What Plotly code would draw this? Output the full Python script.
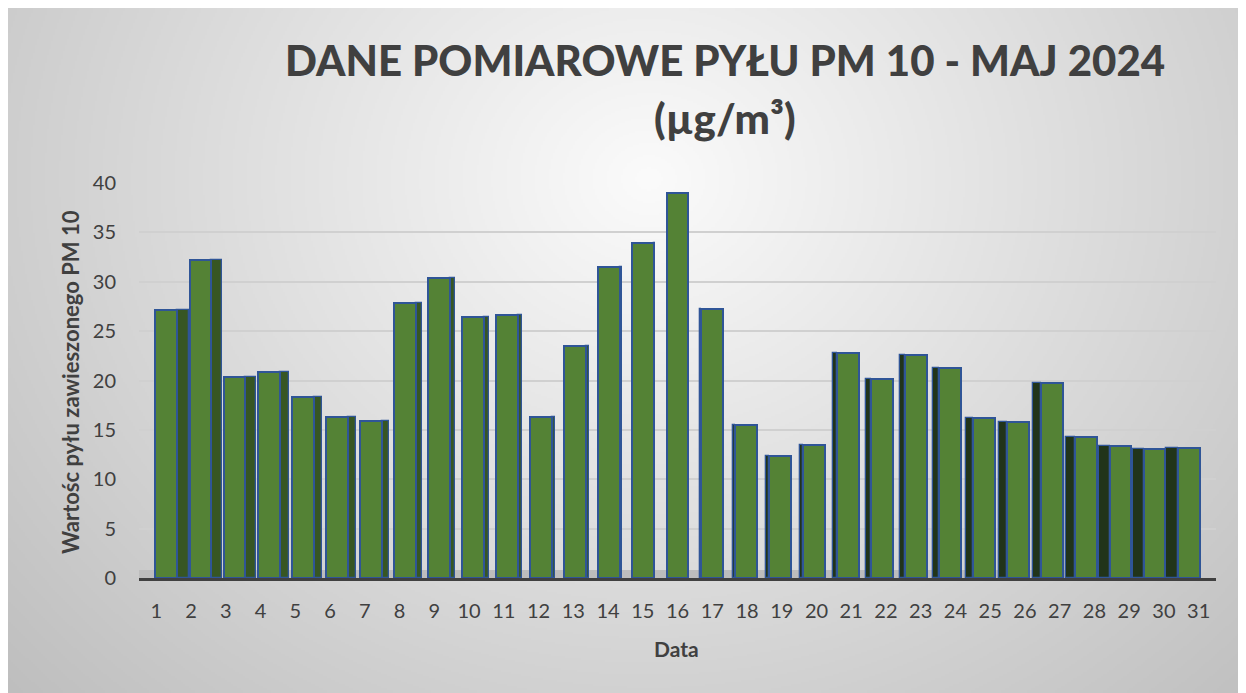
import base64
import struct
import zlib

import numpy as np
import plotly.graph_objects as go

# ---------------- data ----------------
days = [str(d) for d in range(1, 32)]
pm10 = [27.1, 32.2, 20.4, 20.9, 18.3, 16.3, 15.9, 27.8, 30.4, 26.4,
        26.6, 16.3, 23.5, 31.5, 33.9, 39.0, 27.2, 15.5, 12.4, 13.5,
        22.8, 20.2, 22.6, 21.3, 16.2, 15.8, 19.7, 14.3, 13.4, 13.1, 13.2]
y_ticks = [0, 5, 10, 15, 20, 25, 30, 35, 40]

title_line1 = "DANE POMIAROWE PYŁU PM 10 - MAJ 2024"
title_line2 = "(µg/m³)"
x_title = "Data"
y_title = "Wartośc pyłu zawieszonego PM 10"

# ---------------- layout constants (figure pixels) ----------------
W, H = 1238, 685          # page adds an 8 px body margin
ML, MR, MT, MB = 131, 30, 175, 115
PW, PH = W - ML - MR, H - MT - MB


def fx(px):   # figure pixel x -> paper
    return (px - ML) / PW


def fy(py):   # figure pixel y (from top) -> paper
    return (H - MB - py) / PH


def png_data_uri(arr):
    h, w, _ = arr.shape
    raw = b"".join(b"\x00" + arr[r].tobytes() for r in range(h))

    def chunk(t, d):
        c = struct.pack(">I", len(d)) + t + d
        return c + struct.pack(">I", zlib.crc32(t + d) & 0xFFFFFFFF)

    png = (b"\x89PNG\r\n\x1a\n"
           + chunk(b"IHDR", struct.pack(">IIBBBBB", w, h, 8, 2, 0, 0, 0))
           + chunk(b"IDAT", zlib.compress(raw, 9))
           + chunk(b"IEND", b""))
    return "data:image/png;base64," + base64.b64encode(png).decode()


# radial grey background covering the whole figure
gw, gh = W // 2, H // 2
yy, xx = np.mgrid[0:gh, 0:gw].astype(float)
px = xx * 2
py = yy * 2
d = np.sqrt(((px - 640) / 720) ** 2 + ((py - 170) / 620) ** 2)
val = np.clip(251 - 50 * d, 175, 251).astype(np.uint8)
bg = np.stack([val, val, val], axis=-1)
bg_uri = png_data_uri(bg)

# ---------------- pseudo-3D bar geometry ----------------
n = len(pm10)
xs = list(range(1, n + 1))
front_w = 0.63
step_shift = 0.0192
side_step = 0.0225
front_off, side_off, side_w, side_col = [], [], [], []
for i in xs:
    k = 16 - i
    fo = -front_w / 2 + k * step_shift
    sw = abs(k) * side_step
    front_off.append(fo)
    side_w.append(max(sw, 0.001))
    if k >= 0:
        side_off.append(fo + front_w)
        side_col.append("#375623")
    else:
        side_off.append(fo - sw)
        side_col.append("#21341a")

fig = go.Figure()

fig.add_trace(go.Bar(
    x=xs, y=pm10, width=side_w, offset=side_off,
    marker=dict(color=side_col, line=dict(color="#2f5597", width=1.3)),
    hoverinfo="skip", showlegend=False,
))
fig.add_trace(go.Bar(
    x=xs, y=pm10, width=[front_w] * n, offset=front_off,
    marker=dict(color="#548235", line=dict(color="#2f5597", width=2)),
    name="PM 10", showlegend=False,
))

fig.add_layout_image(dict(
    source=bg_uri, xref="paper", yref="paper",
    x=fx(0), y=fy(0), sizex=W / PW, sizey=H / PH,
    xanchor="left", yanchor="top", sizing="stretch", layer="below",
))

# floor band behind the bars
fig.add_shape(type="rect", xref="paper", yref="paper",
              x0=0.0, x1=0.97, y0=0, y1=8 / PH,
              fillcolor="#bdbdbd", line=dict(width=0), layer="below")

FONT = "Lato, 'Open Sans', sans-serif"
TXT = "#404040"

fig.add_annotation(text=title_line1, xref="paper", yref="paper",
                   x=fx(717), y=fy(52), showarrow=False,
                   xanchor="center", yanchor="middle",
                   font=dict(family=FONT, size=42, color=TXT, weight=900))
fig.add_annotation(text=title_line2, xref="paper", yref="paper",
                   x=fx(717), y=fy(110), showarrow=False,
                   xanchor="center", yanchor="middle",
                   font=dict(family=FONT, size=42, color=TXT, weight=900))
fig.add_annotation(text="<b>" + x_title + "</b>", xref="paper", yref="paper",
                   x=fx(668), y=fy(640), showarrow=False,
                   xanchor="center", yanchor="middle",
                   font=dict(family=FONT, size=21, color=TXT))
fig.add_annotation(text="<b>" + y_title + "</b>", xref="paper", yref="paper",
                   x=fx(62), y=fy(374), showarrow=False, textangle=-90,
                   xanchor="center", yanchor="middle",
                   font=dict(family=FONT, size=22, color=TXT))

fig.update_layout(
    width=W, height=H,
    margin=dict(l=ML, r=MR, t=MT, b=MB, pad=0),
    paper_bgcolor="#d8d8d8",
    plot_bgcolor="rgba(0,0,0,0)",
    barmode="overlay",
    bargap=0,
    font=dict(family=FONT, color=TXT),
    xaxis=dict(
        range=[0.5, n + 0.5], tickmode="array", tickvals=xs, ticktext=days,
        showgrid=False, zeroline=False,
        showline=True, linecolor="#404040", linewidth=3,
        ticks="", ticklabelstandoff=13,
        tickfont=dict(size=20, color=TXT, family=FONT),
        automargin=False, fixedrange=True,
    ),
    yaxis=dict(
        range=[0, 40], tickmode="array", tickvals=y_ticks,
        showgrid=True, gridcolor="#d0d0d0", gridwidth=2,
        zeroline=False, showline=False, ticks="", ticklabelstandoff=22,
        tickfont=dict(size=20, color=TXT, family=FONT),
        automargin=False, fixedrange=True,
    ),
)

fig.write_html("out.html")
